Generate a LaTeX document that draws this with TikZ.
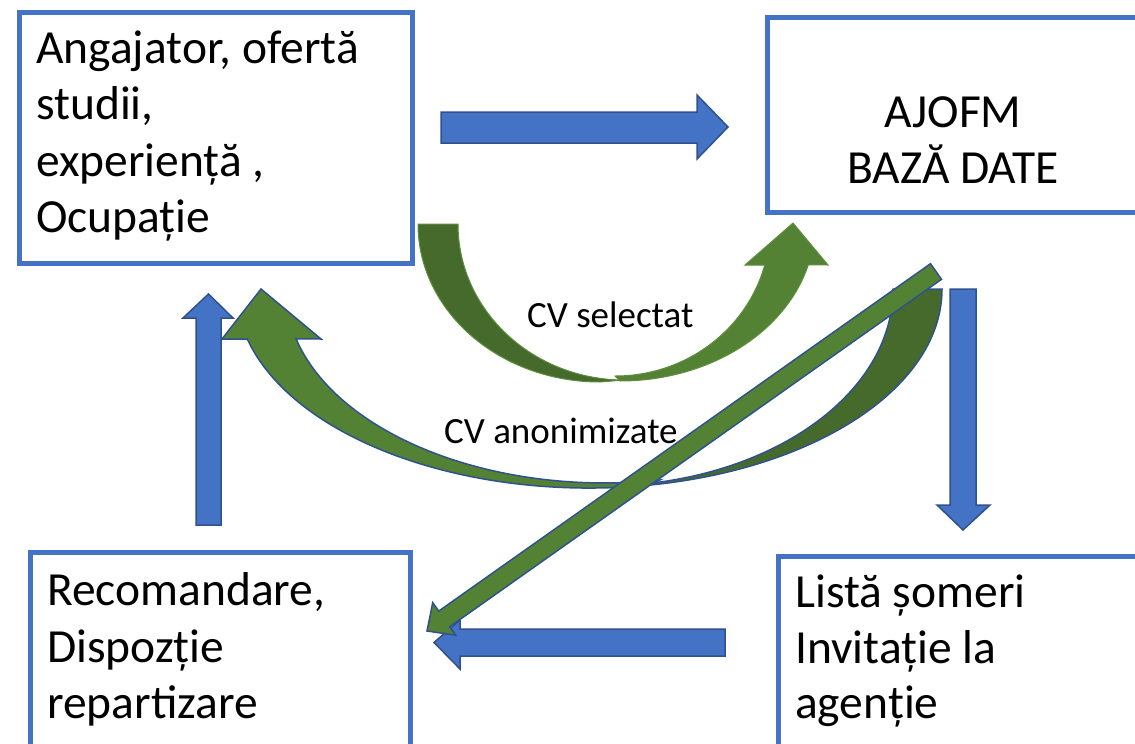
\documentclass[tikz,border=0pt]{standalone}
\usepackage{fontspec}
\setmainfont{Carlito}
\definecolor{boxblue}{HTML}{4472C4}
\definecolor{edgeblue}{HTML}{2F528F}
\definecolor{lgreen}{HTML}{548235}
\definecolor{dgreen}{HTML}{456A2C}
\definecolor{gedge}{HTML}{5E8F3E}
\begin{document}
\begin{tikzpicture}[x=1pt,y=-1pt,
  box/.style={draw=boxblue, line width=5pt, fill=white, inner sep=0pt, anchor=north west},
  bigtxt/.style={font=\fontsize{47.5}{56}\selectfont, inner sep=0pt, anchor=base west},
  midtxt/.style={font=\fontsize{47.5}{56}\selectfont, inner sep=0pt, anchor=base},
  lbl/.style={font=\fontsize{37}{44}\selectfont, inner sep=0pt, anchor=base west},
  bluearrow/.style={fill=boxblue, draw=edgeblue, line width=1.5pt, line join=miter},
  greenfront/.style={fill=lgreen, draw=edgeblue, line width=1.5pt, line join=miter},
  greenback/.style={fill=dgreen, draw=edgeblue, line width=1.5pt},
  selfront/.style={fill=lgreen, draw=gedge, line width=1pt, line join=miter},
  selback/.style={fill=dgreen, draw=gedge, line width=1pt}
]
\clip (0,0) rectangle (1135,744);
\fill[white] (0,0) rectangle (1135,744);

% boxes
\node[box, minimum width=393pt, minimum height=251pt] (emp) at (16.5,9.5) {};
\node[box, minimum width=381pt, minimum height=195pt] (db) at (764.5,14.5) {};
\node[box, minimum width=380pt, minimum height=197pt] (rec) at (27.5,549.5) {};
\node[box, minimum width=400pt, minimum height=200pt] (lst) at (775.5,553.5) {};

% texts
\node[bigtxt] (e1) at (36,63) {Angajator, ofertă};
\node[bigtxt] (e2) at (36,119.5) {studii,};
\node[bigtxt] (e3) at (36,176) {experiență ,};
\node[bigtxt] (e4) at (36,232) {Ocupație};
\node[midtxt] (d1) at (953,127) {AJOFM};
\node[midtxt] (d2) at (953,183) {BAZĂ DATE};
\node[bigtxt] (r1) at (47,605) {Recomandare,};
\node[bigtxt] (r2) at (47,662) {Dispozție};
\node[bigtxt] (r3) at (47,718) {repartizare};
\node[bigtxt] (l1) at (795,607) {Listă șomeri};
\node[bigtxt] (l2) at (795,663) {Invitație la};
\node[bigtxt] (l3) at (795,718) {agenție};

% blue block arrows
\draw[bluearrow] (441,112) -- (697,112) -- (697,95) -- (728,127) -- (697,159) -- (697,143) -- (441,143) -- cycle;
\draw[bluearrow] (950,289) -- (976,289) -- (976,505) -- (990,505) -- (963,530) -- (937,505) -- (950,505) -- cycle;
\draw[bluearrow] (725,629) -- (460,629) -- (460,620) -- (434,642.5) -- (460,669) -- (460,656) -- (725,656) -- cycle;
\draw[bluearrow] (196,525) -- (196,318) -- (183,318) -- (208.5,294) -- (233,318) -- (221,318) -- (221,525) -- cycle;

% CV selectat curved arrow
\draw[selback] (418,224) arc[start angle=180, end angle=90, x radius=182, y radius=158]
  -- (624.6,380) arc[start angle=90, end angle=180, x radius=166.6, y radius=156] -- cycle;
\draw[selfront] (620,381) arc[start angle=90, end angle=15.1, x radius=195, y radius=157]
  -- (828,265) -- (793,223) -- (745,265) -- (764.7,265)
  arc[start angle=15.07, end angle=90, x radius=155, y radius=150] -- cycle;
\node[lbl] (sel) at (527,327) {CV selectat};

% CV anonimizate curved arrow
\draw[greenback] (942,289) arc[start angle=0, end angle=86.6, x radius=353, y radius=199]
  -- (601.5,486) arc[start angle=90, end angle=0, x radius=291.5, y radius=197] -- cycle;
\draw[greenfront] (247.3,339) arc[start angle=165.45, end angle=80, x radius=353, y radius=199]
  -- (660,480) arc[start angle=80, end angle=165.3, x radius=319, y radius=193]
  -- (321,339) -- (261,289) -- (222,339) -- cycle;
\node[lbl] (ano) at (444,443) {CV anonimizate};

% diagonal arrow
\draw[greenfront] (930.5,263.7) -- (941.5,279.3) -- (449.7,626.7) -- (455.7,635.2) -- (427,631) -- (432.7,602.6) -- (438.7,611.1) -- cycle;
\end{tikzpicture}
\end{document}
